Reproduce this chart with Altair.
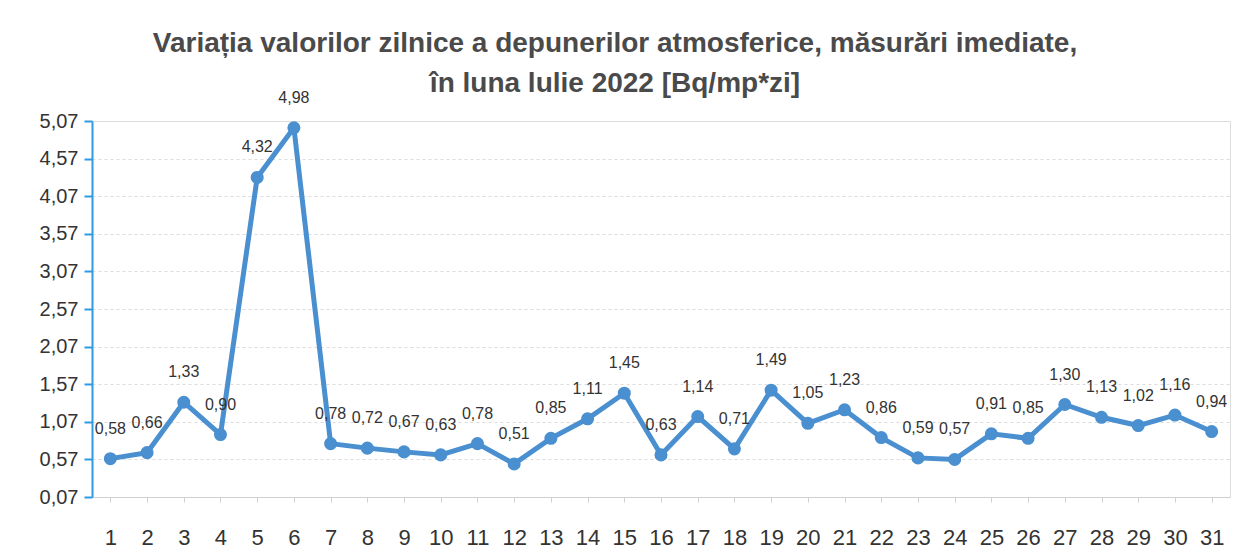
import altair as alt
import pandas as pd

days = [str(d) for d in range(1, 32)]
values = [0.58, 0.66, 1.33, 0.90, 4.32, 4.98, 0.78, 0.72, 0.67, 0.63,
          0.78, 0.51, 0.85, 1.11, 1.45, 0.63, 1.14, 0.71, 1.49, 1.05,
          1.23, 0.86, 0.59, 0.57, 0.91, 0.85, 1.30, 1.13, 1.02, 1.16, 0.94]
y_ticks = [0.07, 0.57, 1.07, 1.57, 2.07, 2.57, 3.07, 3.57, 4.07, 4.57, 5.07]

df = pd.DataFrame({"day": days, "value": values})

LINE = "#4A8FD0"
FONT = "Liberation Sans"

x = alt.X("day:N", sort=days, scale=alt.Scale(paddingInner=0, paddingOuter=0),
          axis=alt.Axis(title=None, labelAngle=0, labelFontSize=22, labelColor="#333",
                        labelFont=FONT, labelPadding=25, domainColor="#d0d0d0",
                        tickColor="#d0d0d0", tickSize=5, grid=False))
y = alt.Y("value:Q", scale=alt.Scale(domain=[0.07, 5.07], nice=False, zero=False),
          axis=alt.Axis(title=None, values=y_ticks,
                        labelExpr="replace(format(datum.value, '.2f'), '.', ',')",
                        labelFontSize=20, labelColor="#333", labelFont=FONT, labelPadding=6,
                        domainColor="#2F9BE0", domainWidth=2, tickColor="#2F9BE0",
                        tickWidth=2, tickSize=8, grid=True, gridColor="#dcdcdc",
                        gridDash=[3, 3], gridWidth=1))

base = alt.Chart(df).encode(x=x, y=y)

line = base.mark_line(color=LINE, strokeWidth=5)
pts = base.mark_circle(color=LINE, size=170, opacity=1)
labels = base.transform_calculate(
    lab="replace(format(datum.value, '.2f'), '.', ',')"
).mark_text(dy=-30, fontSize=16, color="#333", font=FONT).encode(text="lab:N")

chart = (line + pts + labels).properties(
    width=1138, height=376,
    autosize=alt.AutoSizeParams(type="none"),
    padding={"left": 84, "top": 113, "right": 16, "bottom": 60},
    title=alt.TitleParams(
        ["Variația valorilor zilnice a depunerilor atmosferice, măsurări imediate,",
         "în luna lulie 2022 [Bq/mp*zi]"],
        font=FONT, fontSize=28, fontWeight="bold", color="#4a4a4a",
        anchor="middle", offset=-8, lineHeight=40, dx=-46),
).configure_view(stroke=None).configure(background="white")

chart.save("out.html", embed_options={"renderer": "svg", "actions": False})
